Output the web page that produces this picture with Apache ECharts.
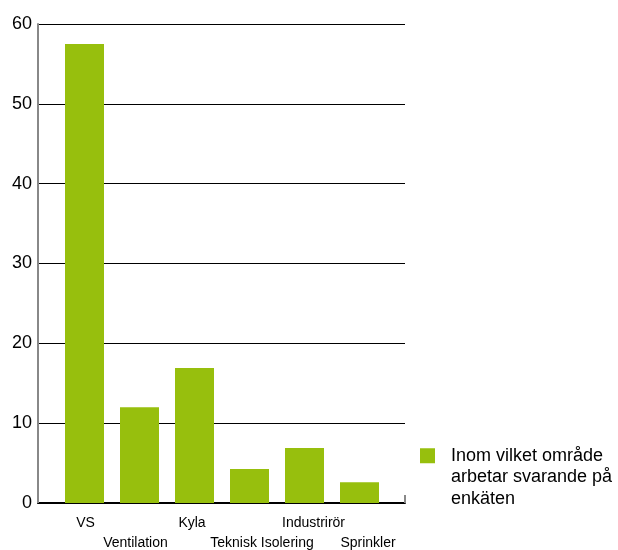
<!DOCTYPE html>
<html>
<head>
<meta charset="utf-8">
<script src="https://cdn.jsdelivr.net/npm/echarts@6/dist/echarts.min.js"></script>
<style>
  html, body { margin: 0; padding: 0; background: #fff; }
  #chart { width: 618px; height: 550px; }
</style>
</head>
<body>
<div id="chart"></div>
<script>
// Areas the respondents work in
const categories = ['VS', 'Ventilation', 'Kyla', 'Teknisk Isolering', 'Industrirör', 'Sprinkler'];
const values = [57.5, 12, 16.9, 4.25, 6.9, 2.6];
const seriesName = 'Inom vilket område\narbetar svarande på\nenkäten';
const yTicks = [0, 10, 20, 30, 40, 50, 60];

const barColor = '#97bf0d';
const font = 'Liberation Sans, Arial, sans-serif';

// Label shifts (px) so neighbouring labels stagger and do not collide
const labelShift = [1, -4, -2.5, 12.5, 9, 8.5];

const chart = echarts.init(document.getElementById('chart'), null, { renderer: 'canvas' });

chart.setOption({
  animation: false,
  backgroundColor: '#fff',
  grid: [
    // frame with value axis and horizontal rules
    { left: 38, top: 24, width: 367, height: 479, containLabel: false, outerBoundsMode: 'none' },
    // band where the bars sit
    { left: 57, top: 24, width: 330, height: 479, containLabel: false, outerBoundsMode: 'none' }
  ],
  xAxis: [
    {
      gridIndex: 0, type: 'value', min: 0, max: 1, interval: 1,
      axisLine: { show: true, lineStyle: { color: '#000', width: 2 } },
      axisTick: { show: true, inside: true, length: 8, lineStyle: { color: '#888', width: 2 } },
      axisLabel: { show: false }, splitLine: { show: false }
    },
    {
      gridIndex: 1, type: 'category',
      data: categories.map((c, i) => ({
        value: c,
        textStyle: { padding: labelShift[i] >= 0 ? [0, 0, 0, 2 * labelShift[i]] : [0, -2 * labelShift[i], 0, 0] }
      })),
      axisLine: { show: false }, axisTick: { show: false },
      axisLabel: {
        interval: 0, color: '#000', fontFamily: font, fontSize: 14,
        margin: 10, lineHeight: 20,
        formatter: (v, i) => (i % 2 === 1 ? '\n' + v : v)
      }
    }
  ],
  yAxis: [
    {
      gridIndex: 0, type: 'value', min: 0, max: 60, interval: 10,
      axisLine: { show: true, lineStyle: { color: '#888', width: 2 } },
      axisTick: { show: false },
      axisLabel: {
        color: '#000', fontFamily: font, fontSize: 18, margin: 6,
        customValues: yTicks
      },
      splitLine: { show: true, lineStyle: { color: '#000', width: 1 } }
    },
    {
      gridIndex: 1, type: 'value', min: 0, max: 60, interval: 10,
      show: false, splitLine: { show: false }
    }
  ],
  legend: {
    left: 415, top: 397, orient: 'vertical',
    itemWidth: 15, itemHeight: 15, itemGap: 0,
    icon: 'rect',
    // two blank lines above keep the first text line level with the swatch
    formatter: (name) => '{t|\n\n' + name + '}',
    textStyle: {
      fontFamily: font, fontSize: 18, color: '#000', lineHeight: 21.5,
      rich: {
        t: { fontFamily: font, fontSize: 18, color: '#000', lineHeight: 21.5, padding: [0, 0, 0, 11] }
      }
    },
    data: [seriesName]
  },
  series: [
    {
      name: seriesName, type: 'bar',
      xAxisIndex: 1, yAxisIndex: 1,
      data: values, barWidth: 39,
      itemStyle: { color: barColor }
    }
  ]
});
</script>
</body>
</html>
